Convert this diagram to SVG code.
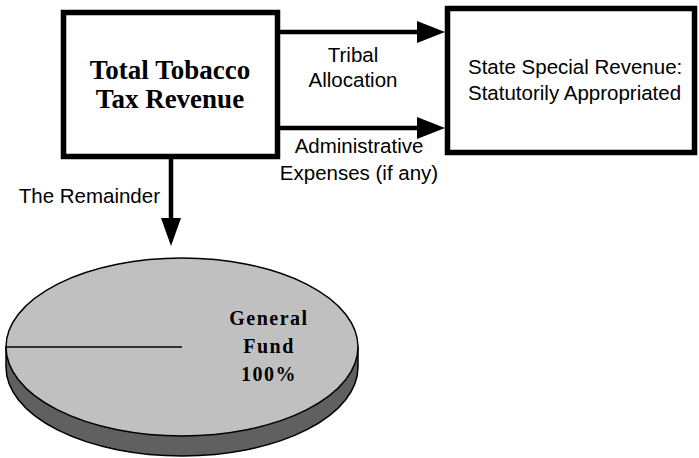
<svg xmlns="http://www.w3.org/2000/svg" width="699" height="458" viewBox="0 0 699 458">
<style>
.box{fill:#fff;stroke:#000;stroke-width:5.5}
.ln{stroke:#000;stroke-width:4.5;fill:none}
.ah{fill:#000}
.sans{font-family:"Liberation Sans",Arial,sans-serif;font-size:20.5px;fill:#000}
.serif{font-family:"Liberation Serif","Times New Roman",serif;font-weight:bold;fill:#000}
</style>
<rect width="699" height="458" fill="#fff"/>
<g id="connectors">
<line class="ln" x1="280" y1="32" x2="420" y2="32"/>
<polygon class="ah" points="417,21 445,32 417,43"/>
<line class="ln" x1="280" y1="128" x2="420" y2="128"/>
<polygon class="ah" points="417,117 445,128 417,139"/>
<line class="ln" x1="171" y1="159" x2="171" y2="220"/>
<polygon class="ah" points="161,218 181,218 171,246"/>
<text class="sans" x="353" y="62" text-anchor="middle">Tribal</text>
<text class="sans" x="353" y="87" text-anchor="middle">Allocation</text>
<text class="sans" x="359" y="153" text-anchor="middle">Administrative</text>
<text class="sans" x="359" y="180" text-anchor="middle">Expenses (if any)</text>
<text class="sans" x="160" y="203" text-anchor="end">The Remainder</text>
</g>
<g id="total">
<rect class="box" x="63.5" y="12.5" width="214" height="144"/>
<text class="serif" font-size="27" x="170" y="79" text-anchor="middle">Total Tobacco</text>
<text class="serif" font-size="27" x="170" y="108" text-anchor="middle">Tax Revenue</text>
</g>
<g id="special">
<rect class="box" x="447.5" y="8.5" width="247" height="144"/>
<text class="sans" x="468" y="74">State Special Revenue:</text>
<text class="sans" x="468" y="100">Statutorily Appropriated</text>
</g>
<g id="pie">
<path d="M6,347 L6,367 A176,89 0 0 0 358,367 L358,347 Z" fill="#606060" stroke="#000" stroke-width="1.5"/>
<ellipse cx="182" cy="347" rx="176" ry="89" fill="#c0c0c0" stroke="#000" stroke-width="1.5"/>
<line x1="6" y1="347" x2="182" y2="347" stroke="#000" stroke-width="1.5"/>
<text class="serif" font-size="20" letter-spacing="1.5" x="269" y="325" text-anchor="middle">General</text>
<text class="serif" font-size="20" letter-spacing="1.5" x="269" y="353" text-anchor="middle">Fund</text>
<text class="serif" font-size="20" letter-spacing="1.5" x="269" y="381" text-anchor="middle">100%</text>
</g>
</svg>
